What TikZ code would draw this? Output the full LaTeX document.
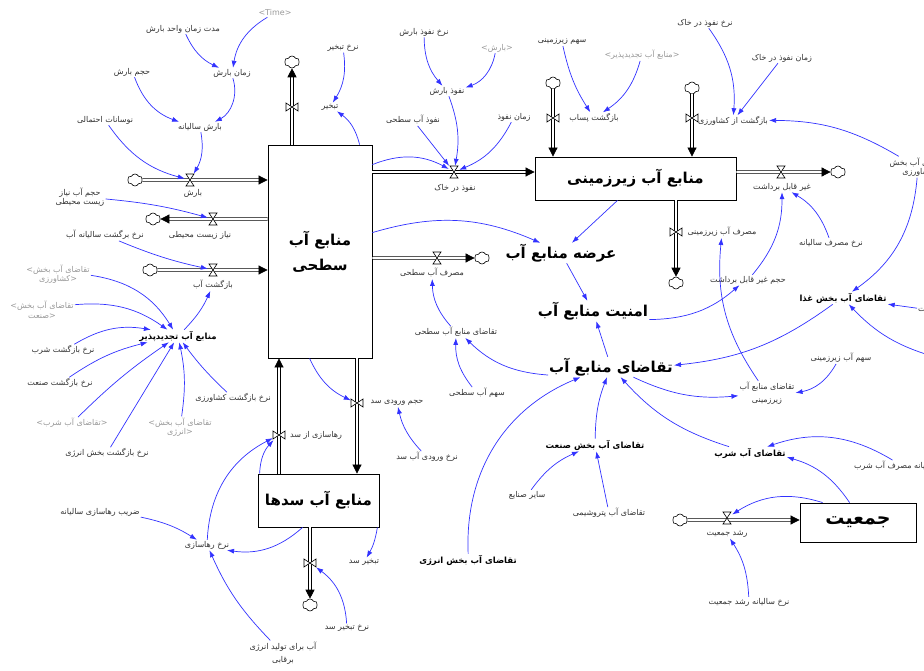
\documentclass[tikz,border=0pt]{standalone}
\usepackage{fontspec}
\setmainfont{DejaVu Sans}
\newfontfamily\arabicfont[Script=Arabic]{DejaVu Sans}
\TeXXeTstate=1
\usetikzlibrary{arrows.meta,shapes.symbols,calc}
\definecolor{conblue}{RGB}{50,50,255}
\newcommand{\pe}[1]{{\arabicfont\beginR#1\endR}}
\begin{document}
\begin{tikzpicture}[x=1pt,y=1pt,
 lbl/.style={font=\fontsize{8}{9.5}\selectfont, text=black!80, inner sep=1pt, align=center},
 shd/.style={lbl, text=black!40},
 mid/.style={font=\fontsize{8.5}{10}\selectfont\bfseries, inner sep=1pt, align=center},
 big/.style={font=\fontsize{15}{18}\selectfont\bfseries, inner sep=1pt},
 stock/.style={draw, line width=0.8pt, inner sep=0pt, font=\fontsize{15}{21}\selectfont\bfseries, align=center},
 cld/.style={cloud, draw, cloud puffs=6, cloud puff arc=130, aspect=1.25, minimum width=15pt, minimum height=12pt, inner sep=0pt, line width=0.6pt},
 vboxh/.style={inner sep=0pt, minimum width=10pt, minimum height=12pt},
 vboxv/.style={inner sep=0pt, minimum width=12pt, minimum height=10pt},
 pipe/.style={draw=black, double=white, double distance=1.8pt, line width=0.7pt, -{Triangle[length=9pt,width=9pt]}},
 con/.style={draw=conblue, line width=0.7pt, -{Latex[length=7pt,width=5pt]}},
 pics/valveh/.style={code={\draw[fill=white, line width=0.6pt] (-4,6)--(4,6)--(-4,-6)--(4,-6)--cycle;}},
 pics/valvev/.style={code={\draw[fill=white, line width=0.6pt] (-6,4)--(-6,-4)--(6,4)--(6,-4)--cycle;}},
]
\fill[white] (0,0) rectangle (924,-671);
\useasboundingbox (0,0) rectangle (924,-671);

% stocks
\node[stock, minimum width=104pt, minimum height=213pt] (ss) at (320,-251.5) {\pe{منابع آب}\\[4pt]\pe{سطحی}};
\node[stock, minimum width=201pt, minimum height=43pt] (gw) at (635.5,-178.5) {\pe{منابع آب زیرزمینی}};
\node[stock, minimum width=121pt, minimum height=53pt] (dam) at (318.5,-500.5) {\pe{منابع آب سدها}};
\node[stock, minimum width=116pt, minimum height=39pt, font=\fontsize{19}{22}\selectfont\bfseries] (pop) at (858,-522.5) {\pe{جمعیت}};

% clouds
\node[cld] (c_rain) at (135,-180) {};
\node[cld] (c_env) at (153,-219) {};
\node[cld] (c_ret) at (150,-270) {};
\node[cld] (c_evap) at (292,-62) {};
\node[cld] (c_use) at (482,-258) {};
\node[cld] (c_pas) at (553,-83) {};
\node[cld] (c_agr) at (692,-88) {};
\node[cld] (c_gwout) at (676,-283) {};
\node[cld] (c_unrec) at (838,-172) {};
\node[cld] (c_hydro) at (310,-605) {};
\node[cld] (c_pop) at (680,-520) {};

% valves (named boxes)
\node[vboxh] (v_rain) at (190,-180) {};
\node[vboxh] (v_env) at (213,-219) {};
\node[vboxh] (v_ret) at (213,-270) {};
\node[vboxv] (v_evap) at (292,-107) {};
\node[vboxh] (v_inf) at (454,-172) {};
\node[vboxh] (v_use) at (437,-258) {};
\node[vboxv] (v_in) at (357,-403) {};
\node[vboxv] (v_rel) at (279,-435) {};
\node[vboxv] (v_hydro) at (310,-563) {};
\node[vboxv] (v_pas) at (553,-118) {};
\node[vboxv] (v_agr) at (692,-118) {};
\node[vboxv] (v_gwout) at (676,-232) {};
\node[vboxh] (v_unrec) at (781,-172) {};
\node[vboxh] (v_pop) at (727,-518) {};

% pipes
\draw[pipe] (c_rain) -- (ss.west |- c_rain);
\draw[pipe] (ss.west |- c_env) -- (c_env);
\draw[pipe] (c_ret) -- (ss.west |- c_ret);
\draw[pipe] (ss.north -| c_evap) -- (c_evap);
\draw[pipe] (ss.east |- v_inf) -- (gw.west |- v_inf);
\draw[pipe] (ss.east |- c_use) -- (c_use);
\draw[pipe] (ss.south -| v_in) -- (dam.north -| v_in);
\draw[pipe] (dam.north -| v_rel) -- (ss.south -| v_rel);
\draw[pipe] (dam.south -| c_hydro) -- (c_hydro);
\draw[pipe] (c_pas) -- (gw.north -| c_pas);
\draw[pipe] (c_agr) -- (gw.north -| c_agr);
\draw[pipe] (gw.south -| c_gwout) -- (c_gwout);
\draw[pipe] (gw.east |- c_unrec) -- (c_unrec);
\draw[pipe] (c_pop) -- (pop.west |- c_pop);

\foreach \v in {v_rain,v_env,v_ret,v_inf,v_use,v_unrec,v_pop} {\pic at (\v) {valveh};}
\foreach \v in {v_evap,v_in,v_rel,v_hydro,v_pas,v_agr,v_gwout} {\pic at (\v) {valvev};}

% labels
\node[shd] (time) at (275,-13) {<Time>};
\node[lbl] (mdt) at (183,-29) {\pe{مدت زمان واحد بارش}};
\node[lbl] (zb) at (232,-73) {\pe{زمان بارش}};
\node[lbl] (hb) at (132,-72) {\pe{حجم بارش}};
\node[lbl] (bs) at (200,-127) {\pe{بارش سالیانه}};
\node[lbl] (nos) at (105,-120) {\pe{نوسانات احتمالی}};
\node[lbl] (l_rain) at (193,-193) {\pe{بارش}};
\node[lbl] (hane) at (80,-197) {\pe{حجم آب نیاز}\\\pe{زیست محیطی}};
\node[lbl] (l_env) at (200,-235) {\pe{نیاز زیست محیطی}};
\node[lbl] (nbs) at (105,-235) {\pe{نرخ برگشت سالیانه آب}};
\node[lbl] (l_ret) at (213,-285) {\pe{بازگشت آب}};
\node[mid] (rw) at (178,-336) {\pe{منابع آب تجدیدپذیر}};
\node[shd] (sh_agr) at (58,-274) {<\pe{تقاضای آب بخش}\\\pe{کشاورزی}>};
\node[shd] (sh_ind) at (42,-310) {<\pe{تقاضای آب بخش}\\\pe{صنعت}>};
\node[lbl] (nbsh) at (63,-350) {\pe{نرخ بازگشت شرب}};
\node[lbl] (nbsn) at (60,-383) {\pe{نرخ بازگشت صنعت}};
\node[shd] (sh_drk) at (72,-423) {<\pe{تقاضای آب شرب}>};
\node[shd] (sh_en) at (180,-427) {<\pe{تقاضای آب بخش}\\\pe{انرژی}>};
\node[lbl] (nbk) at (233,-398) {\pe{نرخ بازگشت کشاورزی}};
\node[lbl] (nbe) at (107,-453) {\pe{نرخ بازگشت بخش انرژی}};
\node[lbl] (zrs) at (100,-512) {\pe{ضریب رهاسازی سالیانه}};
\node[lbl] (nr) at (207,-545) {\pe{نرخ رهاسازی}};
\node[lbl] (l_rel) at (316,-435) {\pe{رهاسازی از سد}};
\node[lbl] (l_in) at (397,-403) {\pe{حجم ورودی سد}};
\node[lbl] (nva) at (427,-457) {\pe{نرخ ورودی آب سد}};
\node[lbl] (l_hydro) at (283,-653) {\pe{آب برای تولید انرژی}\\[4pt]\pe{برقابی}};
\node[lbl] (te_sad) at (364,-562) {\pe{تبخیر سد}};
\node[lbl] (nte_sad) at (347,-628) {\pe{نرخ تبخیر سد}};
\node[lbl] (nt) at (343,-48) {\pe{نرخ تبخیر}};
\node[lbl] (l_evap) at (330,-107) {\pe{تبخیر}};
\node[lbl] (nnb) at (424,-32) {\pe{نرخ نفوذ بارش}};
\node[shd] (sh_rain) at (497,-48) {<\pe{بارش}>};
\node[lbl] (nb) at (447,-91) {\pe{نفوذ بارش}};
\node[lbl] (nas) at (413,-120) {\pe{نفوذ آب سطحی}};
\node[lbl] (zn) at (514,-117) {\pe{زمان نفوذ}};
\node[lbl] (l_inf) at (455,-188) {\pe{نفوذ در خاک}};
\node[lbl] (szm) at (562,-42) {\pe{سهم زیرزمینی}};
\node[shd] (sh_rw) at (642,-55) {<\pe{منابع آب تجدیدپذیر}>};
\node[lbl] (l_pas) at (594,-118) {\pe{بازگشت پساب}};
\node[lbl] (nnk) at (705,-23) {\pe{نرخ نفوذ در خاک}};
\node[lbl] (znk) at (782,-58) {\pe{زمان نفوذ در خاک}};
\node[lbl] (l_agr) at (733,-121) {\pe{بازگشت از کشاورزی}};
\node[lbl] (tak) at (918,-167) {\pe{تقاضای آب بخش}\\\pe{کشاورزی}};
\node[lbl] (l_unrec) at (782,-187) {\pe{غیر قابل برداشت}};
\node[lbl] (nms) at (831,-243) {\pe{نرخ مصرف سالیانه}};
\node[lbl] (hgq) at (748,-280) {\pe{حجم غیر قابل برداشت}};
\node[lbl] (l_gwout) at (722,-232) {\pe{مصرف آب زیرزمینی}};
\node[big] (supply) at (561,-253) {\pe{عرضه منابع آب}};
\node[big] (security) at (593,-311) {\pe{امنیت منابع آب}};
\node[big] (demand) at (611,-367) {\pe{تقاضای منابع آب}};
\node[lbl] (tms) at (456,-332) {\pe{تقاضای منابع آب سطحی}};
\node[lbl] (sas) at (477,-393) {\pe{سهم آب سطحی}};
\node[lbl] (l_use) at (432,-273) {\pe{مصرف آب سطحی}};
\node[mid] (tgh) at (843,-298) {\pe{تقاضای آب بخش غذا}};
\node[lbl] (saz) at (841,-358) {\pe{سهم آب زیرزمینی}};
\node[lbl] (tmz) at (767,-393) {\pe{تقاضای منابع آب}\\[3pt]\pe{زیرزمینی}};
\node[mid] (tsn) at (595,-445) {\pe{تقاضای آب بخش صنعت}};
\node[lbl] (sai) at (527,-495) {\pe{سایر صنایع}};
\node[lbl] (tpt) at (609,-513) {\pe{تقاضای آب پتروشیمی}};
\node[mid] (ten) at (468,-560) {\pe{تقاضای آب بخش انرژی}};
\node[mid] (tsh) at (750,-453) {\pe{تقاضای آب شرب}};
\node[lbl, anchor=west] (nsms) at (853,-466) {\pe{نرخ سالیانه مصرف آب شرب}};
\node[lbl, anchor=west] (edgeT) at (917,-310) {\pe{جمعیت}};
\node[lbl] (l_pop) at (727,-534) {\pe{رشد جمعیت}};
\node[lbl] (nsrj) at (749,-602) {\pe{نرخ سالیانه رشد جمعیت}};
\coordinate (offA) at (935,-357);

% connectors
\draw[con] (time) to[bend right=25] (zb);
\draw[con] (mdt) to[bend right=20] (zb);
\draw[con] (zb) to[bend left=40] (bs);
\draw[con] (hb) to[bend right=25] (bs);
\draw[con] (bs) to[bend left=20] (v_rain);
\draw[con] (nos) to[bend right=20] (v_rain);
\draw[con] (hane) to[bend left=5] (v_env);
\draw[con] (nbs) to[bend right=5] (v_ret);
\draw[con] (rw) to[bend right=10] (l_ret);
\draw[con] (sh_agr) to[bend left=25] (rw);
\draw[con] (sh_ind) to[bend left=20] (rw);
\draw[con] (nbsh) to[bend left=20] (rw);
\draw[con] (nbsn) to[bend left=10] (rw);
\draw[con] (sh_drk) to[bend left=5] (rw);
\draw[con] (nbe) -- (rw);
\draw[con] (sh_en) to[bend right=10] (rw);
\draw[con] (nbk) to[bend left=5] (rw);

\draw[con] ($(ss.north west)+(92,0)$) to[bend right=20] (l_evap);
\draw[con] (nt) to[bend left=20] (l_evap);
\draw[con] ($(ss.north east)+(0,-20)$) to[bend left=25] (v_inf);
\draw[con] (nas) -- (v_inf);
\draw[con] (nb) to[bend left=15] (v_inf);
\draw[con] (zn) to[bend left=20] (v_inf);
\draw[con] (nnb) to[bend right=20] (nb);
\draw[con] (sh_rain) to[bend left=30] (nb);
\draw[con] ($(ss.north east)+(0,-88)$) to[bend left=20] (supply);
\draw[con] ($(gw.south)+(-18,0)$) -- (supply);
\draw[con] (supply) -- (security);
\draw[con] (demand) -- (security);
\draw[con] (demand) to[bend left=20] (tms);
\draw[con] (tms) to[bend left=20] (l_use);
\draw[con] (sas) to[bend left=20] (tms);
\draw[con] ($(ss.south west)+(42,0)$) to[bend right=20] (v_in);
\draw[con] (nva) to[bend left=15] (l_in);
\draw[con] ($(dam.north west)+(2,0)$) to[bend left=20] (v_rel);
\draw[con] (nr) to[bend left=30] (v_rel);
\draw[con] (zrs) to[bend left=10] (nr);
\draw[con] ($(dam.south west)+(45,0)$) to[bend left=25] (nr);
\draw[con] (l_hydro) to[bend left=10] (nr);
\draw[con] ($(dam.south east)+(-2,0)$) to[bend left=10] (te_sad);
\draw[con] (nte_sad) to[bend right=25] (v_hydro);
\draw[con] (szm) to[bend right=10] (l_pas);
\draw[con] (sh_rw) to[bend left=20] (l_pas);
\draw[con] (nnk) to[bend left=20] (l_agr);
\draw[con] (znk) -- (l_agr);
\draw[con] (tak) to[bend right=15] (l_agr);
\draw[con] (hgq) to[bend right=20] (l_unrec);
\draw[con] (nms) to[bend right=20] (l_unrec);
\draw[con] (security) to[bend right=20] (hgq);
\draw[con] (tmz) to[bend left=20] (l_gwout);
\draw[con] (demand) to[bend right=15] (tmz);
\draw[con] (saz) to[bend left=25] (tmz);
\draw[con] (tgh) to[bend left=15] (demand);
\draw[con] (tak) to[bend left=25] (tgh);
\draw[con] (edgeT) -- (tgh);
\draw[con] (offA) to[bend left=15] (tgh);
\draw[con] (tsn) to[bend left=10] (demand);
\draw[con] (ten) to[bend left=35] (demand);
\draw[con] (tsh) to[bend left=15] (demand);
\draw[con] (nsms) to[bend right=25] (tsh);
\draw[con] ($(pop.north west)+(50,0)$) to[bend right=20] (tsh);
\draw[con] ($(pop.north west)+(23,0)$) to[bend right=25] (v_pop);
\draw[con] (nsrj) to[bend right=15] (l_pop);
\draw[con] (sai) to[bend left=15] (tsn);
\draw[con] (tpt) -- (tsn);
\end{tikzpicture}
\end{document}
